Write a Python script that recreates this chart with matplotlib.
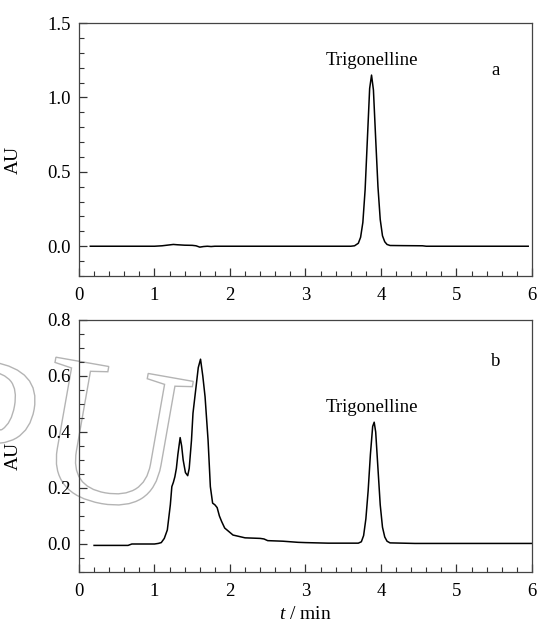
import numpy as np
import matplotlib
matplotlib.use('Agg')
import matplotlib.pyplot as plt
from matplotlib.ticker import MultipleLocator, FormatStrFormatter
from matplotlib.textpath import TextPath
from matplotlib.font_manager import FontProperties
from matplotlib.patches import PathPatch
from matplotlib.transforms import Affine2D

plt.rcParams['font.family'] = ['Liberation Serif', 'DejaVu Serif']
plt.rcParams['mathtext.fontset'] = 'custom'
plt.rcParams['mathtext.it'] = 'Liberation Serif:italic'
plt.rcParams['mathtext.rm'] = 'Liberation Serif'

# chromatogram a: standard
t_a = [0.15, 1.0, 1.1, 1.2, 1.25, 1.3, 1.4, 1.5, 1.55, 1.6, 1.65, 1.7, 1.75, 1.8, 2.5,
       3.60, 3.65, 3.70, 3.73, 3.76, 3.79, 3.82, 3.85, 3.875, 3.90, 3.93, 3.96, 3.99,
       4.02, 4.05, 4.08, 4.12, 4.3, 4.55, 4.6, 5.95]
au_a = [0.0, 0.0, 0.003, 0.009, 0.012, 0.010, 0.007, 0.006, 0.003, -0.006, -0.002, 0.0,
        -0.002, 0.0, 0.0,
        0.0, 0.003, 0.02, 0.06, 0.16, 0.38, 0.72, 1.06, 1.15, 1.05, 0.72, 0.40, 0.18,
        0.07, 0.03, 0.012, 0.005, 0.004, 0.003, 0.0, 0.0]

# chromatogram b: sample
t_b = [0.2, 0.65, 0.7, 1.0, 1.05, 1.09, 1.13, 1.17, 1.21, 1.23, 1.25, 1.27, 1.29, 1.31,
       1.34, 1.36, 1.38, 1.41, 1.44, 1.46, 1.49, 1.51, 1.55, 1.58, 1.61, 1.64, 1.67,
       1.71, 1.74, 1.77, 1.80, 1.83, 1.86, 1.89, 1.93, 2.04, 2.2, 2.4, 2.45, 2.5, 2.7,
       2.9, 3.0, 3.3, 3.70, 3.74, 3.77, 3.80, 3.83, 3.86, 3.89, 3.91, 3.93, 3.96, 3.99,
       4.02, 4.05, 4.08, 4.12, 4.45, 6.0]
au_b = [-0.005, -0.005, 0.0, 0.0, 0.002, 0.005, 0.02, 0.05, 0.14, 0.205, 0.22, 0.24,
        0.27, 0.32, 0.38, 0.35, 0.30, 0.255, 0.244, 0.27, 0.37, 0.467, 0.56, 0.63, 0.66,
        0.60, 0.526, 0.37, 0.205, 0.146, 0.14, 0.13, 0.10, 0.08, 0.057, 0.032, 0.022,
        0.02, 0.018, 0.012, 0.01, 0.006, 0.005, 0.003, 0.003, 0.008, 0.03, 0.09, 0.19,
        0.32, 0.42, 0.435, 0.40, 0.27, 0.14, 0.06, 0.025, 0.01, 0.004, 0.002, 0.002]

fig = plt.figure(figsize=(5.38, 6.25), dpi=100)
ax1 = fig.add_axes([0.1468, 0.5584, 0.842, 0.4048])
ax2 = fig.add_axes([0.1468, 0.0848, 0.842, 0.4032])

# faint outlined watermark letters behind panel b (pixel coords)
fp = FontProperties(family='Liberation Serif')
rot = Affine2D().rotate_deg(-10)
for letter, anchor in (("U", ('left', 55, 'bottom', 120)), ("P", ('right', 35, 'top', 272))):
    p = TextPath((0, 0), letter, size=205, prop=fp).transformed(rot)
    bb = p.get_extents()
    dx = anchor[1] - (bb.x0 if anchor[0] == 'left' else bb.x1)
    dy = anchor[3] - (bb.y0 if anchor[2] == 'bottom' else bb.y1)
    fig.add_artist(PathPatch(p, transform=Affine2D().translate(dx, dy),
                             facecolor='none', edgecolor='#b4b4b4', lw=1.0, zorder=0))

ax1.plot(t_a, au_a, color='black', lw=1.1)
ax2.plot(t_b, au_b, color='black', lw=1.1)

ax1.set_ylim(-0.2, 1.5)
ax1.yaxis.set_major_locator(MultipleLocator(0.5))
ax1.yaxis.set_minor_locator(MultipleLocator(0.1))
ax1.yaxis.set_major_formatter(FormatStrFormatter('%.1f'))

ax2.set_ylim(-0.1, 0.8)
ax2.yaxis.set_major_locator(MultipleLocator(0.2))
ax2.yaxis.set_minor_locator(MultipleLocator(0.05))
ax2.yaxis.set_major_formatter(FormatStrFormatter('%.1f'))

for ax in (ax1, ax2):
    ax.patch.set_alpha(0)
    ax.set_xlim(0, 6)
    ax.xaxis.set_major_locator(MultipleLocator(1))
    ax.xaxis.set_minor_locator(MultipleLocator(0.2))
    ax.tick_params(which='both', direction='in', labelsize=13.5, color='#333333')
    ax.tick_params(which='major', length=6, width=0.9, pad=8)
    ax.tick_params(which='minor', length=3.5, width=0.8)
    ax.tick_params(axis='y', which='major', pad=6)
    for s in ax.spines.values():
        s.set_linewidth(0.9)
        s.set_color('#444444')
    ax.set_ylabel('AU', fontsize=14)

ax1.yaxis.set_label_coords(-0.126, 0.46)
ax2.yaxis.set_label_coords(-0.126, 0.46)

ax1.text(3.88, 1.25, 'Trigonelline', ha='center', va='center', fontsize=13.5)
ax1.text(5.52, 1.18, 'a', ha='center', va='center', fontsize=13.5)
ax2.text(3.88, 0.487, 'Trigonelline', ha='center', va='center', fontsize=13.5)
ax2.text(5.52, 0.65, 'b', ha='center', va='center', fontsize=13.5)

ax2.set_xlabel(r'$t$ / min', fontsize=14, labelpad=4)

fig.savefig('out.png', dpi=100)
